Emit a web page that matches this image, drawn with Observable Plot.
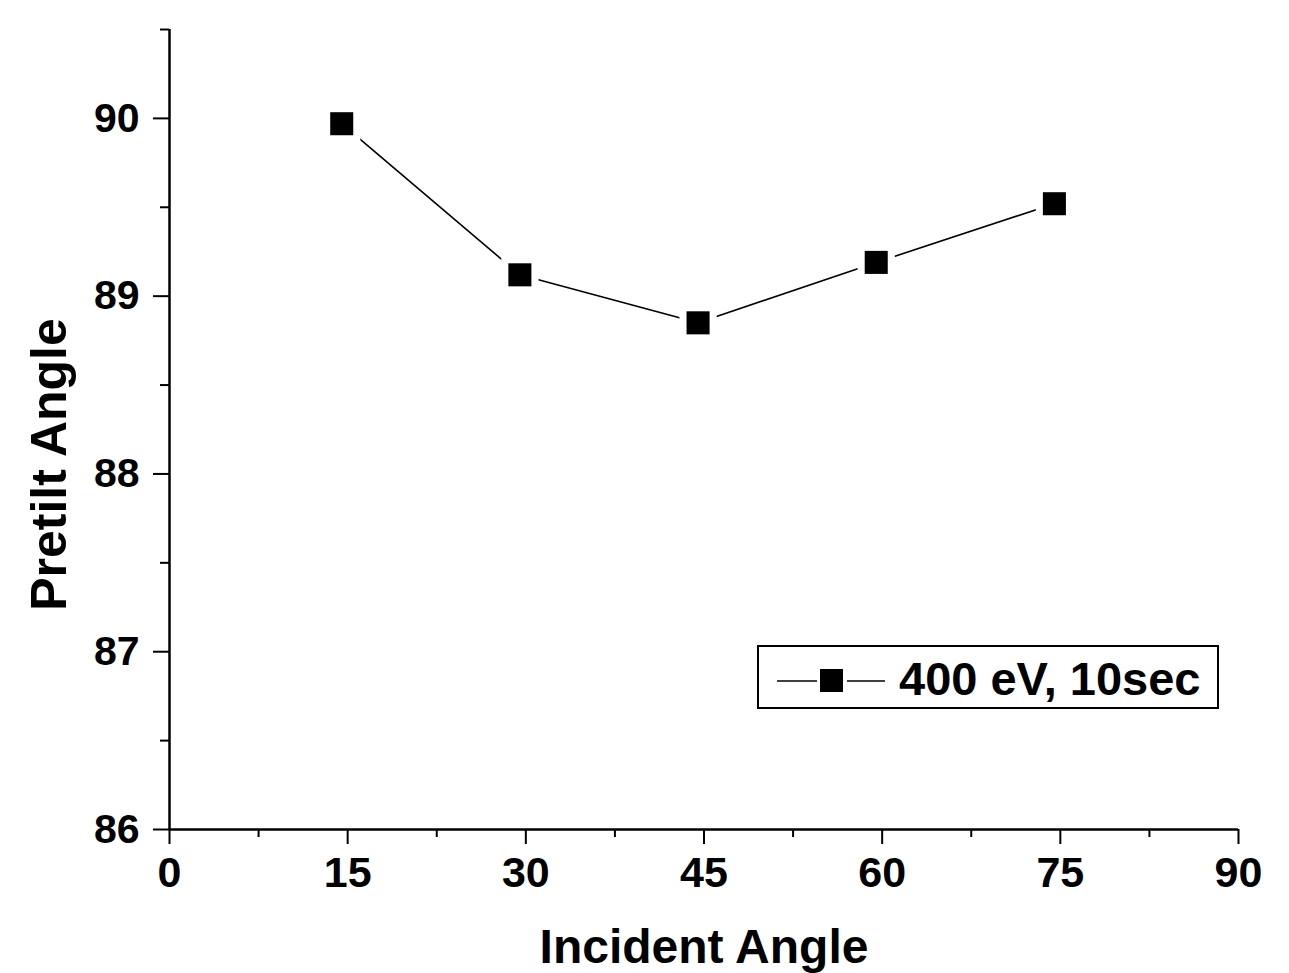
<!DOCTYPE html>
<html><head><meta charset="utf-8">
<script src="https://cdn.jsdelivr.net/npm/d3@7"></script>
<script src="https://cdn.jsdelivr.net/npm/@observablehq/plot@0.6"></script>
<style>
body{margin:0;background:#fff;}
#wrap{position:relative;width:1289px;height:973px;overflow:hidden;}
#legend{position:absolute;left:757px;top:645px;width:458px;height:60px;border:2px solid #000;background:#fff;
  font-family:'Liberation Sans',Arial,sans-serif;font-weight:bold;font-size:47px;color:#000;}
#legend svg{position:absolute;left:16px;top:0;}
#legend span{position:absolute;left:140px;top:4px;white-space:nowrap;}
</style></head><body><div id="wrap"></div>
<script>
const incidentAngle = [14.5, 29.5, 44.5, 59.5, 74.5];
const pretiltAngle = [89.97, 89.12, 88.85, 89.19, 89.52];
const seriesLabel = "400 eV, 10sec";
const xTitle = "Incident Angle";
const yTitle = "Pretilt Angle";
const xMajor = [0, 15, 30, 45, 60, 75, 90];
const xMinor = [7.5, 22.5, 37.5, 52.5, 67.5, 82.5];
const yMajor = [86, 87, 88, 89, 90];
const yMinor = [86.5, 87.5, 88.5, 89.5, 90.5];

const data = incidentAngle.map((x, i) => ({x, y: pretiltAngle[i]}));
const font = "'Liberation Sans', Arial, sans-serif";

const plot = Plot.plot({
  width: 1289, height: 973,
  marginLeft: 169, marginRight: 51, marginTop: 29, marginBottom: 144,
  style: {fontFamily: font, fontWeight: "bold", fontSize: "41px", color: "#000", background: "#fff", overflow: "visible"},
  x: {domain: [0, 90]},
  y: {domain: [86, 90.5]},
  marks: [
    Plot.axisX({ticks: xMinor, tickSize: 8, tickFormat: () => "", label: null, strokeWidth: 2}),
    Plot.axisX({ticks: xMajor, tickSize: 15, tickPadding: 12, tickFormat: d => String(d), label: null, strokeWidth: 2, fontSize: 43, fontWeight: "bold"}),
    Plot.axisY({ticks: yMinor, tickSize: 9, tickFormat: () => "", label: null, strokeWidth: 2}),
    Plot.axisY({ticks: yMajor, tickSize: 16, tickPadding: 14, tickFormat: d => String(d), label: null, strokeWidth: 2, fontSize: 41, fontWeight: "bold"}),
    Plot.ruleX([0], {y1: 86, y2: 90.5, stroke: "black", strokeWidth: 2.5}),
    Plot.ruleY([86], {x1: 0, x2: 90, stroke: "black", strokeWidth: 2.5}),
    Plot.line(data, {x: "x", y: "y", stroke: "black", strokeWidth: 1.6}),
    Plot.dot(data, {x: "x", y: "y", symbol: "square", r: 21, fill: "white", stroke: "none"}),
    Plot.dot(data, {x: "x", y: "y", symbol: "square", r: 13, fill: "black", stroke: "none"}),
    Plot.text([xTitle], {frameAnchor: "bottom", dy: 118, lineAnchor: "middle", textAnchor: "middle", fontSize: 48, fontWeight: "bold", fill: "black"}),
    Plot.text([yTitle], {frameAnchor: "left", dx: -120, dy: 35, rotate: -90, lineAnchor: "middle", textAnchor: "middle", fontSize: 50, fontWeight: "bold", fill: "black"})
  ]
});
const wrap = document.getElementById("wrap");
wrap.appendChild(plot);

const legend = document.createElement("div");
legend.id = "legend";
legend.innerHTML = `<svg width="112" height="60"><line x1="2" y1="34" x2="42" y2="34" stroke="#000" stroke-width="1.6"/><rect x="45" y="22" width="23" height="23" fill="#000"/><line x1="72" y1="34" x2="110" y2="34" stroke="#000" stroke-width="1.6"/></svg><span></span>`;
legend.querySelector("span").textContent = seriesLabel;
wrap.appendChild(legend);
</script></body></html>
